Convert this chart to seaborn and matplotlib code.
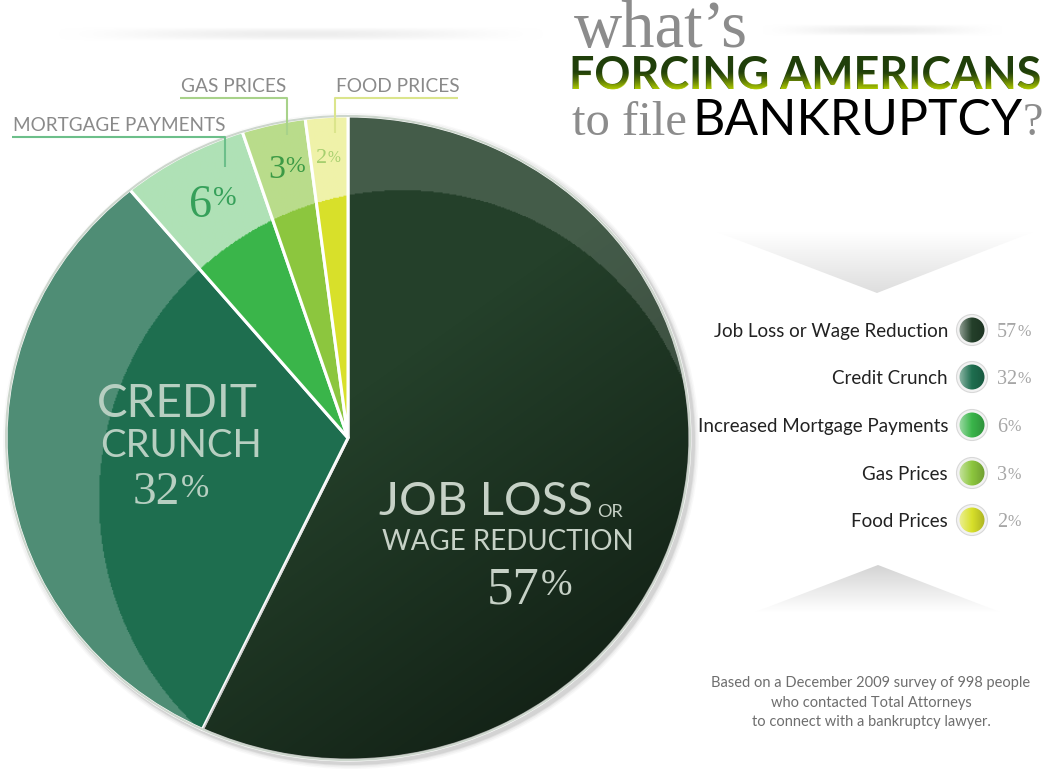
import numpy as np
import matplotlib
matplotlib.use('Agg')
import matplotlib.pyplot as plt
import seaborn as sns
from matplotlib.patches import Ellipse, Circle, Polygon, PathPatch
from matplotlib.textpath import TextPath
from matplotlib.font_manager import FontProperties
from matplotlib.transforms import Affine2D
from matplotlib.colors import LinearSegmentedColormap, to_rgb

# data
causes = ['Job Loss or Wage Reduction', 'Credit Crunch', 'Increased Mortgage Payments',
          'Gas Prices', 'Food Prices']
shares = [57, 32, 6, 3, 2]
slice_colors = ['#24402a', '#1e6e4f', '#3ab54a', '#8cc63e', '#d8e02a']
glare = [0.15, 0.22, 0.6, 0.4, 0.6]
outer_labels = ['MORTGAGE PAYMENTS', 'GAS PRICES', 'FOOD PRICES']

sns.set_theme(style='white')
plt.rcParams['font.family'] = ['Lato', 'DejaVu Sans']
SERIF = 'Liberation Serif'
palette = sns.color_palette(slice_colors)

fig = plt.figure(figsize=(10.45, 7.7), dpi=100)
fig.patch.set_facecolor('white')

# background and text layers in pixel coords
bg = fig.add_axes([0, 0, 1, 1], zorder=0)
top = fig.add_axes([0, 0, 1, 1], zorder=3)
for a in (bg, top):
    a.set_xlim(0, 1045)
    a.set_ylim(770, 0)
    a.axis('off')
    a.patch.set_visible(False)


def hbar(ax, x0, x1, y0, y1, gray=0.93):
    xs = np.linspace(0, 1, 200)
    ys = np.linspace(0, 1, 20)
    av = np.sin(np.pi * ys)[:, None] * (np.sin(np.pi * xs) ** 1.5)[None, :]
    img = np.zeros((20, 200, 4))
    img[..., :3] = gray
    img[..., 3] = av
    ax.imshow(img, extent=(x0, x1, y1, y0), aspect='auto', interpolation='bilinear', zorder=1)


hbar(bg, 54, 548, 27, 41)
hbar(bg, 760, 1005, 24, 36)


def chevron(ax, pts, y_light, y_dark, dark=0.82):
    poly = Polygon(pts, closed=True, facecolor='none', edgecolor='none')
    ax.add_patch(poly)
    xs = [p[0] for p in pts]
    g = 1 - (1 - dark) * np.linspace(0, 1, 100)
    img = np.ones((100, 2, 3)) * g[:, None, None]
    # row 0 sits at the light edge
    if y_dark > y_light:
        ext = (min(xs), max(xs), y_dark, y_light)
    else:
        ext = (min(xs), max(xs), y_light, y_dark)
        img = img[::-1]
    im = ax.imshow(img, extent=ext, aspect='auto', interpolation='bilinear', zorder=1)
    im.set_clip_path(poly)


chevron(bg, [(717, 232), (1033, 232), (877, 293)], 232, 293, dark=0.87)
chevron(bg, [(878, 565), (1000, 612), (755, 612)], 612, 565, dark=0.83)

# pie shadow
for k, a in zip([10, 7, 4, 2], [0.04, 0.06, 0.08, 0.12]):
    bg.add_patch(Ellipse((351, 441), 686 + k, 646 + k, facecolor='#606060', edgecolor='none',
                         alpha=a, zorder=2))

# pie
ax = fig.add_axes([5 / 1045, 9 / 770, 686 / 1045, 646 / 770], zorder=1)
wedges, _ = ax.pie(shares, colors=palette, startangle=90, counterclock=False,
                   wedgeprops=dict(edgecolor='white', linewidth=2.2))

n = 600
g = np.linspace(-1, 1, n)
X, Y = np.meshgrid(g, g[::-1])
inside = X ** 2 + Y ** 2 <= 1
inner = ((X - 0.16) / 0.889) ** 2 + ((Y + 0.192) / 0.96) ** 2 <= 1
ring = inside & ~inner

for w, s in zip(wedges, glare):
    img = np.zeros((n, n, 4))
    img[..., :3] = 1
    img[..., 3] = np.where(ring, s, 0)
    im = ax.imshow(img, extent=(-1, 1, -1, 1), aspect='auto', interpolation='bilinear', zorder=3)
    im.set_clip_path(w)

# darker toward lower right on the big slice
d = X * 0.6 - Y * 0.8
img = np.zeros((n, n, 4))
img[..., 3] = 0.45 * np.clip((d + 0.1) / 1.1, 0, 1)
im = ax.imshow(img, extent=(-1, 1, -1, 1), aspect='auto', interpolation='bilinear', zorder=2)
im.set_clip_path(wedges[0])

ax.add_patch(Ellipse((0, 0), 2, 2, facecolor='none', edgecolor='#cdd6cd', linewidth=1.5, zorder=4))
ax.set_aspect('auto')
ax.set_xlim(-1.003, 1.003)
ax.set_ylim(-1.003, 1.003)
ax.axis('off')


def pct(ax, x, y, value, size, color, ratio=0.72, drop=0.04, gap=0.5):
    t = ax.text(x, y, f'{value}', fontsize=size, color=color, family=SERIF, ha='left',
                va='baseline', zorder=5)
    ax.annotate('%', xy=(1, 1), xycoords=t, xytext=(gap, -size * drop),
                textcoords='offset points', fontsize=size * ratio, color=color,
                family=SERIF, ha='left', va='top', zorder=5)


# labels in slices
jl = '#c6d1c6'
top.text(379, 515, 'JOB LOSS', fontsize=34, color=jl, ha='left', va='baseline')
top.text(597, 517, 'OR', fontsize=13, color=jl, ha='left', va='baseline')
top.text(382, 550, 'WAGE REDUCTION', fontsize=20, color=jl, ha='left', va='baseline')
pct(top, 487, 603, shares[0], 38, jl)

cc = '#b7cfc1'
top.text(97, 417, 'CREDIT', fontsize=33, color=cc, ha='left', va='baseline')
top.text(100, 457, 'CRUNCH', fontsize=27.5, color=cc, ha='left', va='baseline')
pct(top, 133, 504, shares[1], 34, cc)

pct(top, 189, 217, shares[2], 33, '#36a05a', ratio=0.62)
pct(top, 268, 178, shares[3], 24.5, '#3c9a45', ratio=0.7)
pct(top, 316, 163, shares[4], 16, '#a6cf6e', ratio=0.7)

# callout labels
lab = '#8a8a8a'
callouts = [
    (outer_labels[0], 13, 131, 13.6, [(12, 137), (225, 137), (225, 167)], '#6cbf8a'),
    (outer_labels[1], 181, 92, 13.8, [(180, 98), (287, 98), (287, 135)], '#a8d28a'),
    (outer_labels[2], 336, 92, 13.8, [(335, 133), (335, 98), (458, 98)], '#dbe58c'),
]
for txt, tx, ty, fs, line, col in callouts:
    top.text(tx, ty, txt, fontsize=fs, color=lab, ha='left', va='baseline')
    xs, ys = zip(*line)
    top.plot(xs, ys, color=col, linewidth=1.5, solid_capstyle='butt')

# title
top.text(574, 47, "what\u2019s", fontsize=48, color='#8c8c8c', family=SERIF, ha='left', va='baseline')

fp = FontProperties(family='Lato', weight='bold')
tp = TextPath((0, 0), 'FORCING AMERICANS', size=43, prop=fp)
bb = tp.get_extents()
sc = 467 / bb.width
x_start = 573 - bb.x0 * sc
top.text(x_start, 89, 'FORCING AMERICANS', fontsize=43 * sc * 0.72, fontweight='bold',
         color='#203f0a', ha='left', va='baseline', zorder=4)
path = Affine2D().scale(sc, -sc).translate(x_start, 89).transform_path(tp)
tpatch = PathPatch(path, facecolor='none', edgecolor='none')
top.add_patch(tpatch)
glow = np.zeros((100, 2, 4))
glow[..., :3] = to_rgb('#b8d400')
glow[..., 3] = (np.clip((np.linspace(0, 1, 100) - 0.45) / 0.55, 0, 1) ** 1.3)[:, None]
im = top.imshow(glow, extent=(570, 1045, 90, 56), aspect='auto', interpolation='bilinear', zorder=5)
im.set_clip_path(tpatch)

top.text(572, 135, 'to file', fontsize=35, color='#8c8c8c', family=SERIF, ha='left', va='baseline')
top.text(692, 135, 'BANKRUPTCY', fontsize=36, color='black', ha='left', va='baseline')
top.text(1023, 135, '?', fontsize=33, color='#8c8c8c', family=SERIF, ha='left', va='baseline')

# legend
rows_y = [337, 384, 432, 480, 527]
for name, v, c, y in zip(causes, shares, slice_colors, rows_y):
    top.text(948, y, name, fontsize=13.5, color='#222222', ha='right', va='baseline')
    cy = y - 7
    top.add_patch(Circle((972, cy), 15.5, facecolor='#f2f2f2', edgecolor='#d8d8d8',
                         linewidth=0.8, zorder=2))
    circ = Circle((972, cy), 12.5, facecolor='none', edgecolor='none', zorder=3)
    top.add_patch(circ)
    base = np.array(to_rgb(c))
    cm = LinearSegmentedColormap.from_list('c', [base + (1 - base) * 0.5, base, base * 0.8])
    gi = top.imshow(np.linspace(0, 1, 60)[None, :], extent=(959, 985, cy + 13, cy - 13),
                    cmap=cm, aspect='auto', interpolation='bilinear', zorder=3)
    gi.set_clip_path(circ)
    pct(top, 997, y, v, 14.5, '#a6a6a6', ratio=0.8, gap=0)

# footnote
foot = ['Based on a December 2009 survey of 998 people',
        'who contacted Total Attorneys',
        'to connect with a bankruptcy lawyer.']
for line, y in zip(foot, [683, 703, 722]):
    top.text(871, y, line, fontsize=10.5, color='#6e6e6e', ha='center', va='center')

for a in (bg, top):
    a.set_xlim(0, 1045)
    a.set_ylim(770, 0)

fig.savefig('out.png', dpi=100)
